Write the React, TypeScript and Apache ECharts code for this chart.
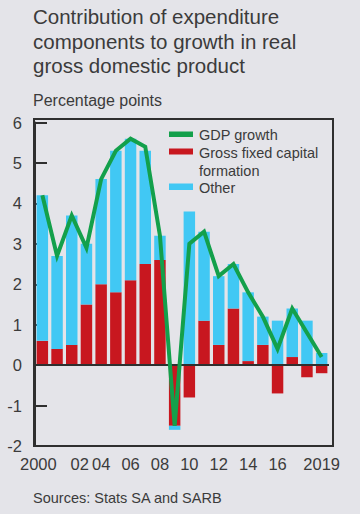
import React, { useEffect, useRef } from "react";
import * as echarts from "echarts";

const years = ["2000","2001","2002","2003","2004","2005","2006","2007","2008","2009","2010","2011","2012","2013","2014","2015","2016","2017","2018","2019"];
const tickLabels = ["2000","","02","","04","","06","","08","","10","","12","","14","","16","","","2019"];
const gfcf = [0.6,0.4,0.5,1.5,2.0,1.8,2.1,2.5,2.6,-1.5,-0.8,1.1,0.5,1.4,0.1,0.5,-0.7,0.2,-0.3,-0.2];
const other = [3.6,2.3,3.2,1.5,2.6,3.5,3.5,2.8,0.6,-0.1,3.8,2.2,1.7,1.1,1.7,0.7,1.1,1.2,1.1,0.3];
const gdp = [4.2,2.7,3.7,2.9,4.6,5.3,5.6,5.4,3.2,-1.5,3.0,3.3,2.2,2.5,1.8,1.2,0.4,1.4,0.8,0.2];

const titleLines = ["Contribution of expenditure", "components to growth in real", "gross domestic product"];
const unitLabel = "Percentage points";
const sourceLabel = "Sources: Stats SA and SARB";
const seriesNames = ["GDP growth", "Gross fixed capital\nformation", "Other"];

const BG = "#e4e4e9";
const TXT = "#3b3b3b";
const AX = "#2f2f2f";
const GREEN = "#13a04b";
const RED = "#c8171f";
const BLUE = "#41c8f4";
const FONT = "'Liberation Sans', Arial, Helvetica, sans-serif";

export default function App() {
  const ref = useRef<HTMLDivElement>(null);
  useEffect(() => {
    if (!ref.current) return;
    const chart = echarts.init(ref.current, null, { renderer: "svg" });
    const option: any = {
      animation: false,
      backgroundColor: BG,
      textStyle: { fontFamily: FONT },
      grid: { left: 35, top: 122.5, width: 294, height: 323.5, containLabel: false },
      xAxis: {
        type: "category",
        data: years,
        boundaryGap: true,
        axisLine: { onZero: false, lineStyle: { color: AX, width: 2 } },
        axisTick: { inside: true, length: 8, lineStyle: { color: AX, width: 2 }, interval: 0 },
        axisLabel: {
          interval: 0,
          margin: 9,
          fontSize: 16.5,
          color: TXT,
          fontFamily: FONT,
          formatter: (v: string, i: number) => {
            const t = tickLabels[i];
            if (!t) return "";
            if (i === 0) return "{a|" + t + "}";
            if (i === 2) return "{b|" + t + "}";
            return t;
          },
          rich: {
            a: { fontSize: 16.5, color: TXT, fontFamily: FONT, padding: [0, 8, 0, 0] },
            b: { fontSize: 16.5, color: TXT, fontFamily: FONT, padding: [0, 0, 0, 16] },
          },
        },
        splitLine: { show: false },
      },
      yAxis: {
        type: "value",
        min: -2,
        max: 6,
        interval: 1,
        axisLine: { show: true, lineStyle: { color: AX, width: 2 } },
        axisTick: { show: true, inside: true, length: 12, lineStyle: { color: AX, width: 2 } },
        axisLabel: { fontSize: 16.5, color: TXT, margin: 13, fontFamily: FONT },
        splitLine: { show: false },
      },
      series: [
        {
          name: seriesNames[1],
          type: "bar",
          stack: "c",
          data: gfcf,
          barCategoryGap: "22%",
          itemStyle: { color: RED },
          markLine: {
            silent: true,
            symbol: ["none", "none"],
            label: { show: false },
            lineStyle: { color: AX, width: 1.8, type: "solid" },
            data: [{ yAxis: 0 }],
          },
          z: 2,
        },
        {
          name: seriesNames[2],
          type: "bar",
          stack: "c",
          data: other,
          barCategoryGap: "22%",
          itemStyle: { color: BLUE },
          z: 2,
        },
        {
          name: seriesNames[0],
          type: "line",
          data: gdp,
          showSymbol: false,
          symbol: "none",
          lineStyle: { color: GREEN, width: 4, join: "miter" },
          itemStyle: { color: GREEN },
          z: 5,
        },
      ],
      graphic: [
        {
          type: "rect",
          shape: { x: 34, y: 119, width: 299, height: 327 },
          style: { fill: "none", stroke: AX, lineWidth: 2 },
          silent: true,
          z: 10,
        },
        {
          type: "text",
          x: 33,
          y: 4.5,
          style: {
            text: titleLines.join("\n"),
            font: `20.5px ${FONT}`,
            lineHeight: 24.5,
            fill: TXT,
          },
        },
        {
          type: "text",
          x: 33,
          y: 100.5,
          style: { text: unitLabel, font: `16px ${FONT}`, fill: TXT, textVerticalAlign: "middle" },
        },
        {
          type: "text",
          x: 33,
          y: 497.5,
          style: { text: sourceLabel, font: `14.5px ${FONT}`, fill: TXT, textVerticalAlign: "middle" },
        },
        { type: "rect", shape: { x: 169, y: 131.5, width: 24, height: 5.5 }, style: { fill: GREEN }, z: 11 },
        { type: "rect", shape: { x: 169, y: 148.5, width: 24, height: 6 }, style: { fill: RED }, z: 11 },
        { type: "rect", shape: { x: 169, y: 183.5, width: 24, height: 6.5 }, style: { fill: BLUE }, z: 11 },
        {
          type: "text",
          x: 199,
          y: 134.5,
          style: { text: seriesNames[0], font: `14.5px ${FONT}`, fill: TXT, textVerticalAlign: "middle" },
          z: 11,
        },
        {
          type: "text",
          x: 199,
          y: 143.5,
          style: { text: seriesNames[1], font: `14.5px ${FONT}`, fill: TXT, lineHeight: 18, textVerticalAlign: "top" },
          z: 11,
        },
        {
          type: "text",
          x: 199,
          y: 188,
          style: { text: seriesNames[2], font: `14.5px ${FONT}`, fill: TXT, textVerticalAlign: "middle" },
          z: 11,
        },
      ],
    };
    chart.setOption(option);
    return () => chart.dispose();
  }, []);
  return (
    <div
      ref={ref}
      style={{ position: "fixed", left: 0, top: 0, width: 360, height: 514, background: BG }}
    />
  );
}
